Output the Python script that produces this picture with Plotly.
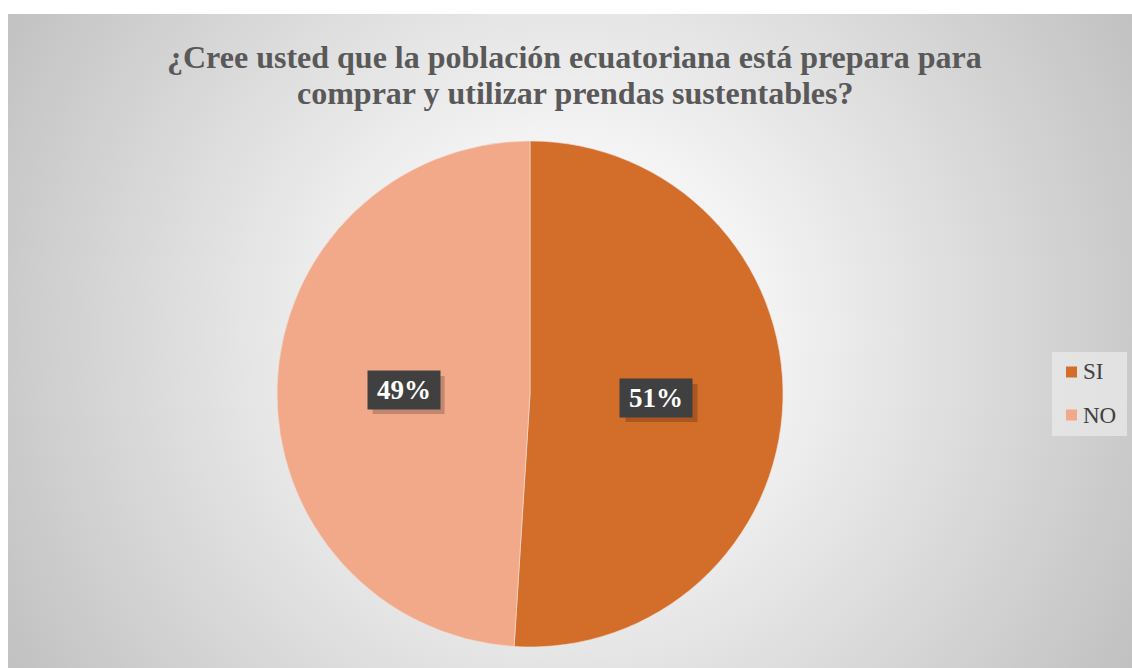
import math
import base64
import plotly.graph_objects as go

# ---- data ----
labels = ["SI", "NO"]
values = [51, 49]
colors = ["#D36D2A", "#F2A98A"]
title_lines = ["¿Cree usted que la población ecuatoriana está prepara para",
               "comprar y utilizar prendas sustentables?"]

SERIF = "Liberation Serif, Times New Roman, Tinos, DejaVu Serif, serif"
W, H = 1132, 668
CX0, CY0, CX1, CY1 = 8, 14, 1132, 668

cw, ch = CX1 - CX0, CY1 - CY0
svg = f'''<svg xmlns="http://www.w3.org/2000/svg" width="{cw}" height="{ch}" viewBox="0 0 {cw} {ch}" preserveAspectRatio="none">
<defs><radialGradient id="g" gradientUnits="userSpaceOnUse" cx="560" cy="320" r="660">
<stop offset="0" stop-color="#ffffff"/><stop offset="0.3" stop-color="#f3f3f3"/><stop offset="1" stop-color="#c0c0c0"/>
</radialGradient></defs><rect x="0" y="0" width="{cw}" height="{ch}" fill="url(#g)"/></svg>'''
src = "data:image/svg+xml;base64," + base64.b64encode(svg.encode()).decode()

PCX, PCY, PR = 530, 394, 253
dom_x = [(PCX - PR) / W, (PCX + PR) / W]
dom_y = [1 - (PCY + PR) / H, 1 - (PCY - PR) / H]

fig = go.Figure()
fig.add_trace(go.Pie(
    labels=labels, values=values, sort=False, direction="clockwise", rotation=0,
    marker=dict(colors=colors, line=dict(color="#f0e0d8", width=0.6)),
    textinfo="none", hoverinfo="label+percent", showlegend=False,
    domain=dict(x=dom_x, y=dom_y),
))

shapes = []
BW, BH = 72, 38
total = sum(values)
cum = 0
for lab, v in zip(labels, values):
    mid = (cum + v / 2) / total * 2 * math.pi
    cum += v
    px = PCX + 0.5 * PR * math.sin(mid)
    py = PCY - 0.5 * PR * math.cos(mid)
    txt = f"{round(v / total * 100)}%"
    shapes.append(dict(type="rect", xref="paper", yref="paper",
                       x0=(px - BW / 2 + 5) / W, x1=(px + BW / 2 + 5) / W,
                       y0=1 - (py + BH / 2 + 5) / H, y1=1 - (py - BH / 2 + 5) / H,
                       fillcolor="rgba(0,0,0,0.2)", line=dict(width=0)))
    fig.add_annotation(x=px / W, y=1 - py / H, xref="paper", yref="paper",
                       text=f"<b>{txt}</b>", showarrow=False, width=BW, height=BH, borderpad=0,
                       bgcolor="#404040", font=dict(color="white", size=27, family=SERIF))

shapes.append(dict(type="rect", xref="paper", yref="paper", x0=1052 / W, x1=1127 / W,
                   y0=1 - 436 / H, y1=1 - 352 / H, fillcolor="rgba(235,235,235,0.7)",
                   line=dict(width=0), layer="below"))
leg_y = [372, 415]
for lab, col, ly in zip(labels, colors, leg_y):
    shapes.append(dict(type="rect", xref="paper", yref="paper", x0=1066 / W, x1=1077 / W,
                       y0=1 - (ly + 5.5) / H, y1=1 - (ly - 5.5) / H, fillcolor=col, line=dict(width=0)))
    fig.add_annotation(x=1081 / W, y=1 - ly / H, xref="paper", yref="paper", xanchor="left",
                       text=lab, showarrow=False, font=dict(color="#404040", size=23, family=SERIF))

# title as two lines (tighter line spacing)
for line, ty in zip(title_lines, [57, 93]):
    fig.add_annotation(x=575 / W, y=1 - ty / H, xref="paper", yref="paper", xanchor="center",
                       yanchor="middle", text=f"<b>{line}</b>", showarrow=False,
                       font=dict(family=SERIF, size=32, color="#595959"))

fig.update_layout(
    width=W, height=H, margin=dict(l=0, r=0, t=0, b=0),
    paper_bgcolor="white", plot_bgcolor="white",
    shapes=shapes,
    images=[dict(source=src, xref="paper", yref="paper", x=CX0 / W, y=1 - CY0 / H,
                 sizex=cw / W, sizey=ch / H, sizing="stretch", xanchor="left", yanchor="top",
                 layer="below")],
)
fig.write_html("out.html")
